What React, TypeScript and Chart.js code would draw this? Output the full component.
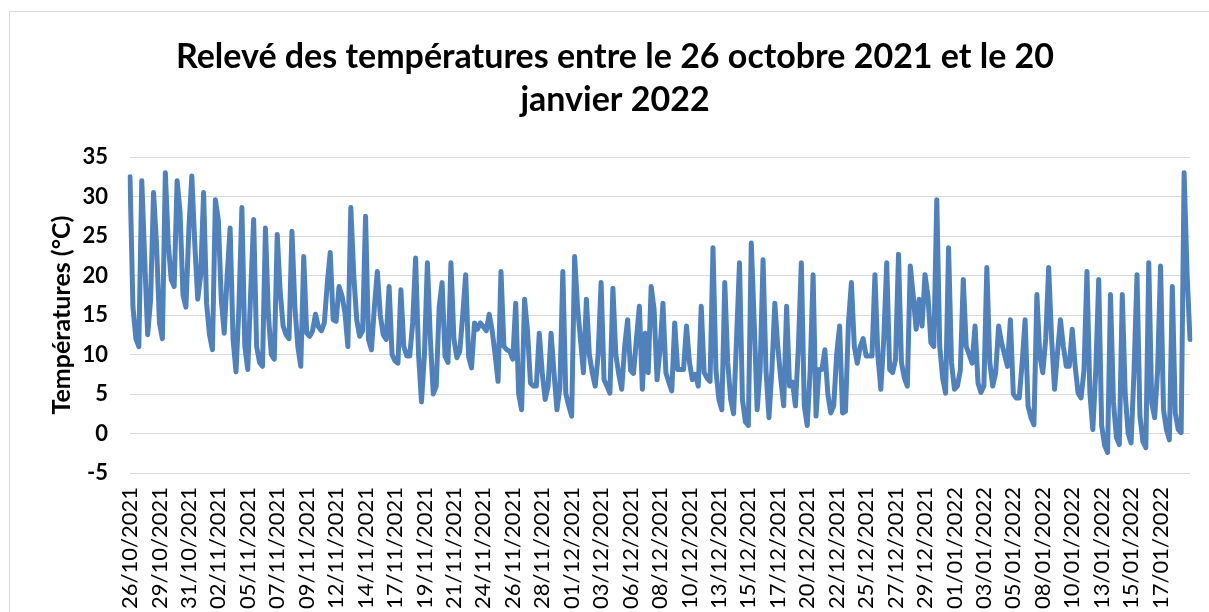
import React, { useEffect, useRef } from 'react';
import { Chart, registerables } from 'chart.js';

Chart.register(...registerables);

const titleLines = ['Relevé des températures entre le 26 octobre 2021 et le 20', 'janvier 2022'];
const yAxisTitle = 'Températures (°C)';

const tickLabels = [
  '26/10/2021', '29/10/2021', '31/10/2021', '02/11/2021', '05/11/2021', '07/11/2021',
  '09/11/2021', '12/11/2021', '14/11/2021', '17/11/2021', '19/11/2021', '21/11/2021',
  '24/11/2021', '26/11/2021', '28/11/2021', '01/12/2021', '03/12/2021', '06/12/2021',
  '08/12/2021', '10/12/2021', '13/12/2021', '15/12/2021', '17/12/2021', '20/12/2021',
  '22/12/2021', '25/12/2021', '27/12/2021', '29/12/2021', '01/01/2022', '03/01/2022',
  '05/01/2022', '08/01/2022', '10/01/2022', '13/01/2022', '15/01/2022', '17/01/2022',
];

const readingsPerLabel = 10;

const temperatures = [
  32.5, 16, 12, 11, 32, 22, 12.5, 17, 30.5, 24,
  14, 12, 33, 24, 19.5, 18.6, 32, 28, 17.5, 16,
  26, 32.6, 24, 17, 20, 30.5, 16.5, 12.5, 10.6, 29.6,
  27, 17, 12.7, 20, 26, 11.9, 7.8, 16, 28.6, 11,
  8.1, 18, 27.1, 11, 9, 8.5, 26, 15, 10, 9.4,
  25.2, 18, 13.6, 12.5, 12, 25.6, 16, 11, 8.5, 22.4,
  12.7, 12.3, 13, 15.1, 13.5, 13, 14, 19, 22.9, 14.4,
  14.2, 18.6, 17.4, 15.3, 11, 28.6, 20, 14.4, 12.3, 13,
  27.5, 11.9, 10.6, 16, 20.5, 15, 12.5, 11.9, 18.6, 10,
  9.2, 8.9, 18.2, 11, 9.8, 9.8, 14, 22.2, 10, 4,
  10, 21.6, 12, 5, 6, 16, 19.1, 9.8, 9, 21.6,
  12, 9.6, 10.4, 15, 20.1, 9.7, 8.3, 14, 13.2, 14,
  13.5, 13, 15.1, 13, 10, 6.6, 20.5, 11, 10.6, 10.4,
  9.4, 16.5, 5, 3, 17, 13, 6.4, 6, 6, 12.7,
  7.7, 4.3, 6, 12.7, 7.7, 3, 5.8, 20.5, 5.1, 3.5,
  2.2, 22.4, 16, 11.9, 7.7, 17, 10, 7.7, 6, 10,
  19.1, 6.8, 6, 5.1, 18.4, 10, 7.5, 5.6, 11, 14.4,
  8, 7.6, 12, 16.1, 5.6, 12.7, 7.7, 18.6, 15.7, 6.8,
  10.6, 16.5, 7.7, 6.5, 5.4, 14, 8.1, 8.1, 8.1, 13.6,
  9, 6.8, 7.5, 6, 16.1, 7.7, 7, 6.6, 23.5, 8,
  4.3, 3, 19.1, 9, 4.3, 2.5, 12, 21.6, 4.3, 1.5,
  1, 24.1, 14, 3, 8, 22, 8, 2, 8, 16.5,
  11, 7, 3.5, 16.1, 6, 6.5, 3.5, 11, 21.6, 3.5,
  1, 8, 20.1, 2.2, 8.1, 8.1, 10.6, 5, 2.6, 3.5,
  10, 13.6, 2.6, 2.8, 14, 19.1, 11, 8.9, 11, 12,
  9.8, 9.8, 9.8, 20.1, 9.8, 5.6, 12, 21.6, 8.1, 7.7,
  9.4, 22.7, 9, 7, 6, 21.2, 17.4, 13.2, 17, 13.6,
  20.1, 17.4, 11.5, 11, 29.6, 11, 7, 5.1, 23.5, 9,
  5.6, 6, 8, 19.5, 11, 10, 8.9, 13.6, 6.4, 5.2,
  6, 21, 9, 6, 7.7, 13.6, 11.5, 10, 8.5, 14.4,
  5, 4.5, 4.5, 9, 14.4, 3.5, 2, 1.1, 17.6, 9.8,
  7.7, 12, 21, 12, 5.6, 10.2, 14.4, 11, 8.5, 8.5,
  13.2, 8.5, 5.1, 4.5, 8, 20.5, 5.1, 0.5, 8, 19.5,
  1, -1.5, -2.4, 17.6, 4, -0.5, -1.4, 17.6, 5, 0,
  -1.2, 8, 20.1, 2.2, -1, -1.8, 21.6, 3.9, 2, 8,
  21.2, 3, 0.5, -0.8, 18.6, 2.6, 0.5, 0.1, 33, 20.3,
  11.9,
];

const yMin = -5;
const yMax = 35;
const yStep = 5;

const FONT = 'Lato, "Liberation Sans", sans-serif';

export default function App() {
  const canvasRef = useRef<HTMLCanvasElement | null>(null);

  useEffect(() => {
    const canvas = canvasRef.current;
    if (!canvas) return;

    const labels = temperatures.map((_, i) =>
      i % readingsPerLabel === 0 ? tickLabels[i / readingsPerLabel] ?? '' : ''
    );

    const framePlugin = {
      id: 'frame',
      beforeDraw(chart: any) {
        const c = chart.ctx;
        c.save();
        c.fillStyle = '#ffffff';
        c.fillRect(0, 0, chart.width, chart.height);
        c.strokeStyle = '#d9d9d9';
        c.lineWidth = 1;
        c.strokeRect(9.5, 11.5, 1260, 700);
        c.restore();
      },
    };

    const chart = new Chart(canvas, {
      type: 'line',
      data: {
        labels,
        datasets: [
          {
            data: temperatures,
            borderColor: '#4F81BD',
            backgroundColor: '#4F81BD',
            borderWidth: 5,
            pointRadius: 0,
            pointHoverRadius: 0,
            tension: 0,
            fill: false,
            borderJoinStyle: 'round',
            borderCapStyle: 'round',
          },
        ],
      },
      options: {
        responsive: false,
        animation: false,
        devicePixelRatio: 1,
        layout: { padding: { left: 21, right: 0, top: 0, bottom: 0 } },
        plugins: {
          legend: { display: false },
          tooltip: { enabled: false },
          title: {
            display: true,
            text: titleLines,
            color: '#000',
            font: { family: FONT, size: 34, weight: 'bold', lineHeight: 43 / 34 },
            padding: { top: 36, bottom: 35 },
          },
        },
        scales: {
          x: {
            type: 'category',
            grid: { display: false, drawTicks: false },
            border: { display: false },
            ticks: {
              autoSkip: false,
              minRotation: 90,
              maxRotation: 90,
              padding: 14,
              color: '#000',
              font: { family: FONT, size: 22 },
            },
            afterFit(scale: any) {
              scale.height = 139;
              scale.paddingLeft = 0;
              scale.paddingRight = 19;
            },
          },
          y: {
            min: yMin,
            max: yMax,
            grid: { color: '#d9d9d9', lineWidth: 1, drawTicks: false },
            border: { display: false },
            ticks: {
              stepSize: yStep,
              padding: 22,
              color: '#000',
              font: { family: FONT, size: 22, weight: 'bold' },
            },
            title: {
              display: true,
              text: yAxisTitle,
              color: '#000',
              font: { family: FONT, size: 25, weight: 'bold', lineHeight: 1.2 },
              padding: { top: 26, bottom: 0 },
            },
            afterFit(scale: any) {
              scale.width = 109;
              scale.paddingTop = 0;
              scale.paddingBottom = 0;
            },
          },
        },
      },
      plugins: [framePlugin],
    } as any);

    return () => chart.destroy();
  }, []);

  return (
    <div style={{ position: 'absolute', left: 0, top: 0, width: 1209, height: 612, background: '#fff' }}>
      <canvas ref={canvasRef} width={1209} height={612} style={{ display: 'block', width: 1209, height: 612 }} />
    </div>
  );
}
